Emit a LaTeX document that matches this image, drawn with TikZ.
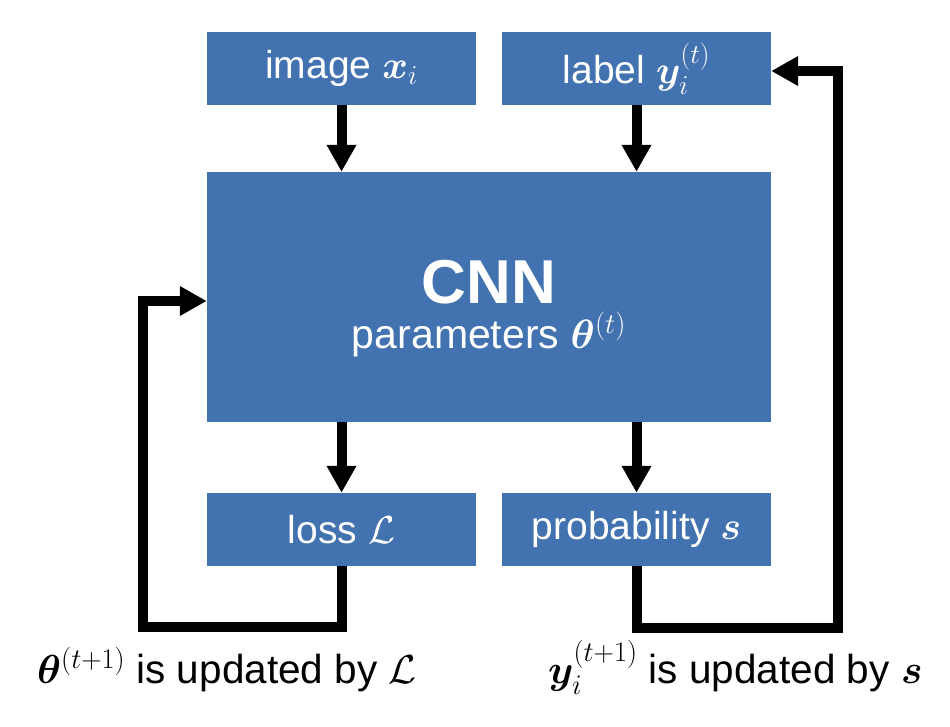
\RequirePackage{fix-cm}
\documentclass[tikz,border=0pt]{standalone}
\usepackage{amsmath,amssymb,bm}
\usepackage{fontspec}
\setmainfont{Liberation Sans}
\usetikzlibrary{arrows.meta}
\definecolor{boxblue}{RGB}{66,114,175}
\tikzset{
  blk/.style={rectangle, fill=boxblue, text=white, inner sep=0pt,
    font=\fontsize{39}{45}\selectfont},
  arr/.style={line width=10pt, draw=black, -{Triangle[length=27pt,width=28pt]}},
  captext/.style={inner sep=0pt, font=\fontsize{40.5}{46}\selectfont, anchor=base west}
}
\begin{document}
\begin{tikzpicture}[x=1pt,y=-1pt]
\useasboundingbox (0,0) rectangle (950,726);
\node[blk, minimum width=269pt, minimum height=73pt] (img) at (341.5,68.5) {image $\boldsymbol{x}_{i}$};
\node[blk, minimum width=269pt, minimum height=73pt] (lab) at (636.5,68.5) {label $\boldsymbol{y}_{i}^{(t)}$};
\node[blk, minimum width=564pt, minimum height=250pt, align=center] (cnn) at (489,297)
  {\rule{0pt}{66pt}{\fontsize{62}{62}\selectfont\bfseries CNN}\\[0pt]{\fontsize{41}{46}\selectfont parameters $\boldsymbol{\theta}^{(t)}$}};
\node[blk, minimum width=269pt, minimum height=73pt] (loss) at (341.5,529.5) {loss $\mathcal{L}$};
\node[blk, minimum width=269pt, minimum height=73pt] (prob) at (636.5,529.5) {probability $\boldsymbol{s}$};
\node[captext] (capl) at (37,683) {$\boldsymbol{\theta}^{(t+1)}$ is updated by $\mathcal{L}$};
\node[captext] (capr) at (548,683) {$\boldsymbol{y}_{i}^{(t+1)}$ is updated by $\boldsymbol{s}$};
\coordinate (lb) at (143,627);
\coordinate (rb) at (838,628);
\draw[arr] (img.south) -- (img.south |- cnn.north);
\draw[arr] (lab.south) -- (lab.south |- cnn.north);
\draw[arr] (cnn.south -| loss.north) -- (loss.north);
\draw[arr] (cnn.south -| prob.north) -- (prob.north);
\draw[arr] (loss.south) |- (lb) |- ([yshift=-4pt]cnn.west);
\draw[arr] (prob.south) |- (rb) |- ([yshift=-2.5pt]lab.east);
\end{tikzpicture}
\end{document}
